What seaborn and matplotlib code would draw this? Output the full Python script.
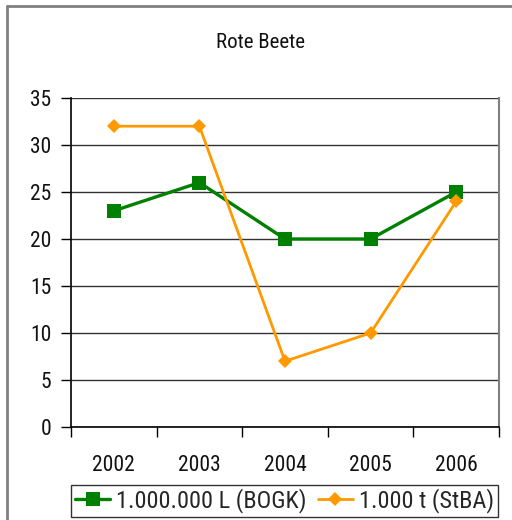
import matplotlib
matplotlib.use("Agg")
import matplotlib.pyplot as plt
from matplotlib.lines import Line2D
import seaborn as sns
import pandas as pd

years = ["2002", "2003", "2004", "2005", "2006"]
bogk = [23, 26, 20, 20, 25]
stba = [32, 32, 7, 10, 24]
label_bogk = "1.000.000 L (BOGK)"
label_stba = "1.000 t (StBA)"
title = "Rote Beete"
yticks = [0, 5, 10, 15, 20, 25, 30, 35]

sns.set_theme(style="white")
plt.rcParams["font.family"] = ["Roboto Condensed", "DejaVu Sans"]

fig = plt.figure(figsize=(5.12, 5.20), dpi=100)
W, H = 512, 520
ax = fig.add_axes([71 / W, 1 - 427 / H, (499 - 71) / W, (427 - 98) / H])

df_b = pd.DataFrame({"year": years, "value": bogk, "series": label_bogk})
df_s = pd.DataFrame({"year": years, "value": stba, "series": label_stba})

sns.lineplot(data=df_b, x="year", y="value", ax=ax, color="#008000", marker="s",
             markersize=10, linewidth=2.4, markeredgewidth=0, label=label_bogk, sort=False)
sns.lineplot(data=df_s, x="year", y="value", ax=ax, color="#FF9900", marker="D",
             markersize=7, linewidth=2.0, markeredgewidth=0, label=label_stba, sort=False)

tick_fs = 15.5
ax.set_xlim(-0.5, 4.5)
ax.set_ylim(0, 35)
ax.set_yticks(yticks)
ax.set_yticklabels([str(v) for v in yticks], fontsize=tick_fs, color="#111111")
ax.set_xticks(range(len(years)))
ax.set_xticklabels(years, fontsize=tick_fs, color="#111111")
ax.set_xticks([i - 0.5 for i in range(len(years) + 1)], minor=True)
ax.tick_params(axis="x", which="major", length=0, pad=20)
ax.tick_params(axis="x", which="minor", length=7, width=1, color="black", direction="out", bottom=True)
ax.tick_params(axis="y", which="major", length=7, width=1, color="black", direction="out", left=True, pad=7)
ax.set_xlabel("")
ax.set_ylabel("")
ax.grid(axis="y", color="#333333", linewidth=1)
ax.set_axisbelow(True)
for side in ["left", "bottom"]:
    ax.spines[side].set_color("black")
    ax.spines[side].set_linewidth(1.2)
ax.spines["right"].set_color("#808080")
ax.spines["right"].set_linewidth(1.5)
ax.spines["top"].set_visible(False)

fig.text(261 / W, 1 - 42 / H, title, ha="center", va="center",
         fontsize=15, color="#111111")

leg = ax.legend(loc="center", bbox_to_anchor=(0.5 * (69 + 500) / W, 1 - 501 / H),
                bbox_transform=fig.transFigure, ncol=2, fontsize=17.5, frameon=True,
                fancybox=False, edgecolor="black", handlelength=1.45, handletextpad=0.25,
                columnspacing=0.45, borderpad=0.15, borderaxespad=0)
leg.get_frame().set_linewidth(1)

fig.add_artist(Line2D([7 / W, 1], [1 - 6 / H, 1 - 6 / H], color="#808080", linewidth=2,
                      transform=fig.transFigure))
fig.add_artist(Line2D([7 / W, 7 / W], [0, 1 - 6 / H], color="#808080", linewidth=2,
                      transform=fig.transFigure))

fig.savefig("out.png", dpi=100, facecolor="white")
